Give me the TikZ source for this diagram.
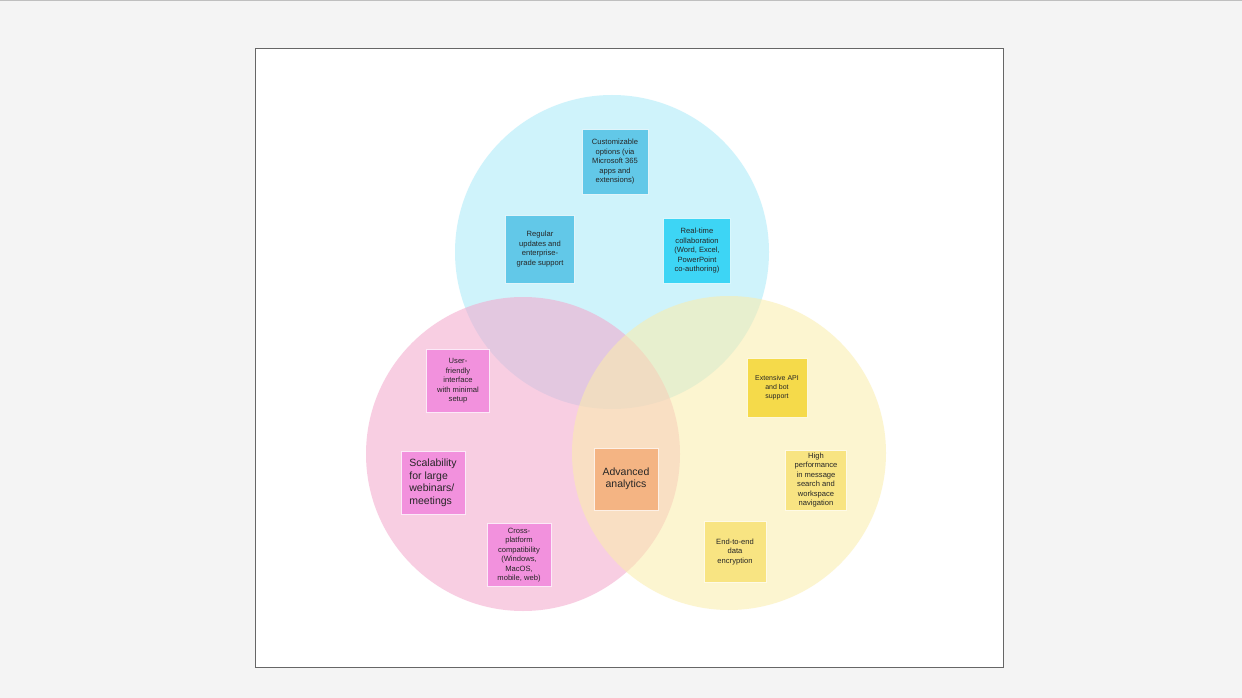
\documentclass[tikz,border=0pt]{standalone}
\usepackage{fontspec}
\setmainfont{Liberation Sans}
\begin{document}
\begin{tikzpicture}[x=1pt,y=-1pt,
  box/.style={draw=white!80!#1,line width=0.6pt,fill=#1,minimum width=64pt,minimum height=64pt,inner sep=1pt,align=center,font=\fontsize{7.6}{9.5}\selectfont,text=black!85},
  circ/.style={fill=#1,fill opacity=0.55,draw=none}]
\definecolor{bg}{HTML}{F4F4F4}
\definecolor{cb}{HTML}{A9EAF9}
\definecolor{cp}{HTML}{F4A6CB}
\definecolor{cy}{HTML}{FBEDAA}
\definecolor{bb}{HTML}{62C8E8}
\definecolor{bc}{HTML}{3DD5F5}
\definecolor{pk}{HTML}{F291DD}
\definecolor{og}{HTML}{F4B483}
\definecolor{y1}{HTML}{F5DA4A}
\definecolor{y2}{HTML}{F8E482}
\useasboundingbox (0,0) rectangle (1242,698);
\fill[bg] (0,0) rectangle (1242,698);
\draw[black!25,line width=1pt] (0,0.5) -- (1242,0.5);
\filldraw[fill=white,draw=black!60,line width=0.7pt] (255,48) rectangle (1003,667);
\fill[circ=cb] (612,252) circle (157);
\fill[circ=cp] (523,454) circle (157);
\fill[circ=cy] (729,453) circle (157);
\node[box=bb,minimum width=66pt,minimum height=65pt] (c1) at (615,162) {Customizable\\options (via\\Microsoft 365\\apps and\\extensions)};
\node[box=bb,minimum width=69pt,minimum height=68pt] (c2) at (540,249) {Regular\\updates and\\enterprise-\\grade support};
\node[box=bc,minimum width=67pt,minimum height=65pt] (c3) at (697,251) {Real-time\\collaboration\\(Word, Excel,\\PowerPoint\\co-authoring)};
\node[box=pk,minimum width=63pt,minimum height=63pt] (p1) at (458,381) {User-\\friendly\\interface\\with minimal\\setup};
\node[box=pk,minimum width=64pt,minimum height=63pt,align=left,font=\fontsize{10.5}{12.5}\selectfont] (p2) at (433,483) {Scalability\\for large\\webinars/\\meetings};
\node[box=pk,minimum width=64pt,minimum height=63pt] (p3) at (519,555) {Cross-\\platform\\compatibility\\(Windows,\\MacOS,\\mobile, web)};
\node[box=og,minimum width=64pt,minimum height=62pt,font=\fontsize{10.5}{12.5}\selectfont] (a) at (626,479) {Advanced\\analytics};
\node[box=y1,minimum width=60pt,minimum height=59pt,font=\fontsize{7}{9}\selectfont] (y1n) at (777,388) {Extensive API\\and bot\\support};
\node[box=y2,minimum width=61pt,minimum height=60pt] (y2n) at (816,480) {High\\performance\\in message\\search and\\workspace\\navigation};
\node[box=y2,minimum width=62pt,minimum height=61pt] (y3n) at (735,552) {End-to-end\\data\\encryption};
\end{tikzpicture}
\end{document}
